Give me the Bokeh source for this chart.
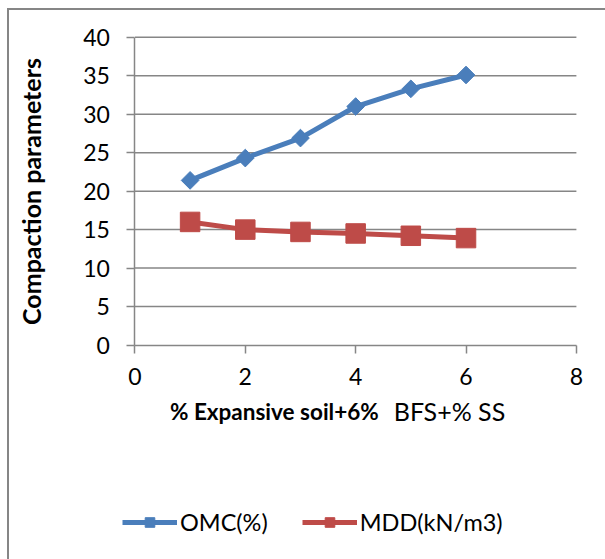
from bokeh.plotting import figure
from bokeh.models import Range1d, Legend, LegendItem, FixedTicker, Label
from bokeh.embed import file_html
from bokeh.resources import INLINE
import numpy as np

# ---- data ----
x_vals = [1, 2, 3, 4, 5, 6]
omc = [21.4, 24.3, 26.9, 31.0, 33.3, 35.1]
mdd = [16.0, 15.0, 14.7, 14.5, 14.2, 13.9]
x_ticks = [0, 2, 4, 6, 8]
y_ticks = [0, 5, 10, 15, 20, 25, 30, 35, 40]
x_title_bold = "% Expansive soil+6%"
x_title_rest = "BFS+% SS"
y_title = "Compaction parameters"
series_names = ["OMC(%)", "MDD(kN/m3)"]

# ---- layout / style ----
FONT = "Lato"
GRAY = "#868686"
BLUE = "#4A7EBB"
RED = "#BE4B48"
W, H = 596, 549            # canvas size (page offset 9,10 incl. border)
X0_PX, X_PER = 125.0, 55.0  # canvas px of x=0, px per x unit
Y0_PX, Y_PER = 333.3, 7.665  # canvas px of y=0, px per y unit

x_range = Range1d(-X0_PX / X_PER, (W - X0_PX) / X_PER)
y_range = Range1d(-(H - Y0_PX) / Y_PER, Y0_PX / Y_PER)

p = figure(width=W, height=H, output_backend="svg", toolbar_location=None,
           x_range=x_range, y_range=y_range, min_border=0,
           styles={"margin-left": "7px", "margin-top": "8px", "box-sizing": "content-box",
                   "border-left": "2px solid #868686", "border-top": "2px solid #868686"})
p.outline_line_color = None
p.background_fill_color = "white"
p.border_fill_color = "white"
p.xgrid.visible = False
p.ygrid.visible = False

# horizontal grid lines across the x extent
p.segment(x0=x_ticks[0], x1=x_ticks[-1], y0=y_ticks[1:], y1=y_ticks[1:],
          line_color=GRAY, line_width=1.5)

p.yaxis.ticker = FixedTicker(ticks=y_ticks)
p.xaxis.ticker = FixedTicker(ticks=x_ticks)
p.xaxis.fixed_location = 0
p.yaxis.fixed_location = 0
p.xaxis.bounds = (x_ticks[0], x_ticks[-1])
p.yaxis.bounds = (y_ticks[0], y_ticks[-1])

for ax in (p.xaxis, p.yaxis):
    ax.axis_line_color = GRAY
    ax.axis_line_width = 1.5
    ax.major_tick_line_color = GRAY
    ax.major_tick_line_width = 1.5
    ax.minor_tick_line_color = None
    ax.major_tick_in = 0
    ax.major_tick_out = 8
    ax.major_label_text_font = FONT
    ax.major_label_text_font_size = "23px"
    ax.major_label_text_color = "black"

p.yaxis.major_label_standoff = 17
p.xaxis.major_label_standoff = 15
p.yaxis.axis_label = y_title
p.yaxis.axis_label_text_font = FONT
p.yaxis.axis_label_text_font_style = "bold"
p.yaxis.axis_label_text_font_size = "25px"
p.yaxis.axis_label_standoff = 34
p.yaxis.axis_label_text_color = "black"

l1 = p.line(x_vals, omc, line_color=BLUE, line_width=5)
m1 = p.scatter(x_vals, omc, marker="square", size=12.5, angle=np.pi / 4,
               fill_color=BLUE, line_color=BLUE)
l2 = p.line(x_vals, mdd, line_color=RED, line_width=5)
m2 = p.scatter(x_vals, mdd, marker="square", size=19.5, fill_color=RED, line_color=RED)

# x-axis title, two font weights
title_y = -8.6
p.add_layout(Label(x=4.418, y=title_y, text=x_title_bold, text_font=FONT,
                   text_font_style="bold", text_font_size="22.5px", text_align="right",
                   text_baseline="middle", text_color="black"))
p.add_layout(Label(x=4.69, y=title_y, text=x_title_rest, text_font=FONT,
                   text_font_size="25px", text_align="left",
                   text_baseline="middle", text_color="black"))

legend = Legend(items=[LegendItem(label=series_names[0], renderers=[l1, m1]),
                       LegendItem(label=series_names[1], renderers=[l2, m2])],
                orientation="horizontal", location=(113, 25),
                glyph_width=55, glyph_height=24, label_standoff=3, spacing=34,
                padding=0, margin=0, border_line_color=None,
                background_fill_alpha=0,
                label_text_font=FONT, label_text_font_size="23.5px",
                label_text_color="black")
p.add_layout(legend, "center")

open("out.html", "w").write(file_html(p, INLINE))
